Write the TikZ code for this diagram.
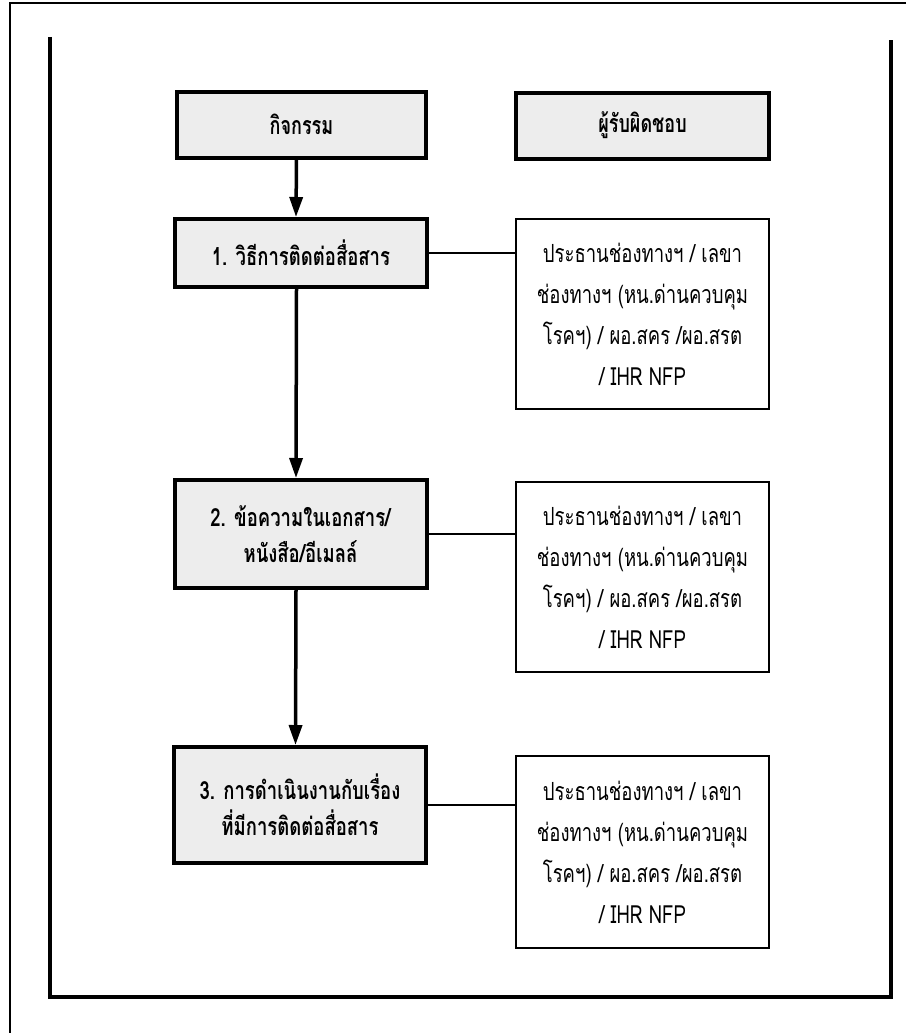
\documentclass[tikz,border=0pt]{standalone}
\usepackage{fontspec}
\usetikzlibrary{arrows.meta}
\newfontfamily\thhead[Script=Thai,FakeStretch=0.72]{Loma}
\newfontfamily\thbox[Script=Thai,FakeStretch=0.74]{Loma}
\newfontfamily\thresp[Script=Thai,FakeStretch=0.74]{Loma}
\tikzset{
  headbox/.style={draw=black,line width=4pt,fill=gray!14,inner sep=0pt,
    minimum height=66pt,font=\thhead\bfseries\fontsize{25}{28}\selectfont},
  actbox/.style={draw=black,line width=4pt,fill=gray!14,inner sep=0pt,align=center,
    minimum width=252pt,font=\thbox\bfseries\fontsize{25}{36}\selectfont},
  respbox/.style={draw=black,line width=1.4pt,fill=white,inner sep=0pt,align=center,
    minimum width=253pt,minimum height=190pt,font=\thresp\fontsize{25}{41}\selectfont},
  flowarrow/.style={line width=3.5pt,-{Triangle[length=20pt,width=13pt]}},
  link/.style={line width=1.4pt},
  outerframe/.style={line width=1.5pt},
  innerframe/.style={line width=4.5pt}
}
\begin{document}
\begin{tikzpicture}[x=1pt,y=-1pt]
\useasboundingbox (0,0) rectangle (906,1033);
% frames
\draw[outerframe] (906,3) -- (10,3) -- (10,1033);
\draw[innerframe] (50,37) -- (50,997) -- (891,997) -- (891,40);
% header
\node[headbox,minimum width=249pt] (h1) at (301.5,124.5) {กิจกรรม};
\node[headbox,minimum width=253pt] (h2) at (642.5,125.5) {ผู้รับผิดชอบ};
% activity boxes
\node[actbox,minimum height=68pt] (b1) at (301,253) {1. วิธีการติดต่อสื่อสาร};
\node[actbox,minimum height=108pt] (b2) at (300.5,534) {2. ข้อความในเอกสาร/\\หนังสือ/อีเมลล์};
\node[actbox,minimum height=116pt] (b3) at (300,805) {3. การดำเนินงานกับเรื่อง\\ที่มีการติดต่อสื่อสาร};
% responsible boxes
\node[respbox] (r1) at (642.5,314) {ประธานช่องทางฯ / เลขา\\ช่องทางฯ (หน.ด่านควบคุม\\โรคฯ) / ผอ.สคร /ผอ.สรต\\/ IHR NFP};
\node[respbox] (r2) at (642.5,577) {ประธานช่องทางฯ / เลขา\\ช่องทางฯ (หน.ด่านควบคุม\\โรคฯ) / ผอ.สคร /ผอ.สรต\\/ IHR NFP};
\node[respbox,minimum height=192pt] (r3) at (642.5,852) {ประธานช่องทางฯ / เลขา\\ช่องทางฯ (หน.ด่านควบคุม\\โรคฯ) / ผอ.สคร /ผอ.สรต\\/ IHR NFP};
% arrows
\draw[flowarrow] ([xshift=-5pt]h1.south) -- ([xshift=-5pt]b1.north);
\draw[flowarrow] ([xshift=-4.5pt]b1.south) -- ([xshift=-4.5pt]b2.north);
\draw[flowarrow] ([xshift=-4.5pt]b2.south) -- ([xshift=-4.5pt]b3.north);
% links
\draw[link] (b1.east) -- (b1.east -| r1.west);
\draw[link] (b2.east) -- (b2.east -| r2.west);
\draw[link] (b3.east) -- (b3.east -| r3.west);
\end{tikzpicture}
\end{document}
